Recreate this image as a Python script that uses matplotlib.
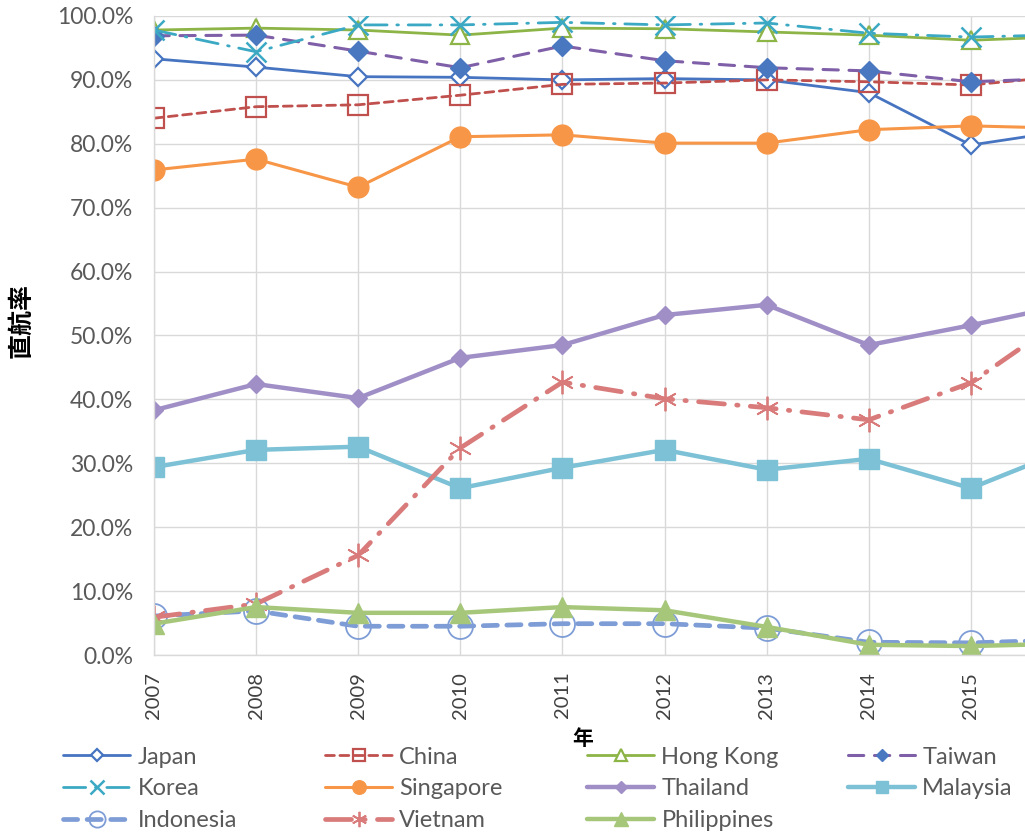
import matplotlib
matplotlib.use("Agg")
import matplotlib.pyplot as plt
from matplotlib.ticker import FuncFormatter, MultipleLocator

# Direct-flight ratio (%) by market, 2007-2016
years = [2007, 2008, 2009, 2010, 2011, 2012, 2013, 2014, 2015, 2016]
year_labels = ["2007", "2008", "2009", "2010", "2011", "2012", "2013", "2014", "2015"]

japan       = [93.3, 92.0, 90.5, 90.4, 90.0, 90.2, 90.0, 88.0, 79.8, 82.2]
china       = [84.0, 85.8, 86.1, 87.6, 89.3, 89.5, 90.0, 89.7, 89.2, 90.7]
hong_kong   = [97.8, 98.1, 97.8, 97.0, 98.1, 98.0, 97.5, 97.0, 96.2, 96.8]
taiwan      = [96.9, 97.0, 94.5, 91.9, 95.3, 93.0, 91.9, 91.4, 89.7, 90.3]
korea       = [97.8, 94.4, 98.6, 98.6, 99.0, 98.6, 98.9, 97.3, 96.7, 97.1]
singapore   = [75.9, 77.6, 73.2, 81.1, 81.4, 80.1, 80.1, 82.2, 82.8, 82.4]
thailand    = [38.3, 42.4, 40.2, 46.5, 48.5, 53.2, 54.8, 48.5, 51.6, 55.0]
malaysia    = [29.4, 32.1, 32.6, 26.1, 29.3, 32.1, 29.0, 30.7, 26.1, 32.5]
indonesia   = [6.1, 6.9, 4.5, 4.5, 4.9, 4.9, 4.2, 2.0, 1.9, 2.4]
vietnam     = [5.9, 8.0, 15.6, 32.4, 42.7, 40.1, 38.7, 36.8, 42.6, 53.7]
philippines = [4.9, 7.5, 6.6, 6.6, 7.5, 7.0, 4.4, 1.6, 1.4, 1.8]

names = ["Japan", "China", "Hong Kong", "Taiwan", "Korea", "Singapore",
         "Thailand", "Malaysia", "Indonesia", "Vietnam", "Philippines"]

plt.rcParams["font.family"] = ["Lato", "DejaVu Sans"]

fig = plt.figure(figsize=(10.25, 8.36), dpi=100)
# the plot area runs on past the right edge of the canvas
ax = fig.add_axes([0.1502, 0.2165, 0.8966, 0.7644])

series = [
    # values, line color, linestyle, lw, marker, ms, face, edge, mew
    (japan, "#4674C1", "-", 2.0, "D", 9, "white", "#4674C1", 1.6),
    (china, "#C0504D", (0, (3.2, 2.0)), 2.0, "s", 14, "none", "#C0504D", 1.6),
    (hong_kong, "#8DB446", "-", 2.0, "^", 13, "white", "#8DB446", 1.6),
    (taiwan, "#7F5FA8", (0, (5.0, 3.5)), 2.2, "D", 10, "#4A78C0", "#4A78C0", 1.0),
    (korea, "#3CA9C4", (0, (8.0, 3.5, 0.6, 3.5)), 2.0, "x", 15, "#3CA9C4", "#3CA9C4", 1.8),
    (singapore, "#F79646", "-", 2.2, "o", 15, "#F79646", "#F79646", 1.0),
    (thailand, "#A08FC6", "-", 3.2, "D", 9, "#A08FC6", "#A08FC6", 1.0),
    (malaysia, "#7CC1D5", "-", 3.2, "s", 14, "#7CC1D5", "#7CC1D5", 1.0),
    (indonesia, "#7E9DD6", (0, (3.0, 2.0)), 3.4, "o", 18, "none", "#7E9DD6", 1.3),
    (vietnam, "#D97B7B", (0, (5.5, 2.6, 0.3, 2.6)), 3.4, (6, 2, 0), 17, "#D97B7B", "#D97B7B", 1.3),
    (philippines, "#A6C77A", "-", 3.2, "^", 15, "#A6C77A", "#A6C77A", 1.0),
]

handles = []
for name, (vals, col, ls, lw, mk, ms, fc, ec, mew) in zip(names, series):
    (h,) = ax.plot(years, vals, color=col, linestyle=ls, linewidth=lw,
                   marker=mk, markersize=ms, markerfacecolor=fc,
                   markeredgecolor=ec, markeredgewidth=mew,
                   dash_capstyle="round", solid_capstyle="round",
                   label=name)
    handles.append(h)

ax.set_xlim(2007, 2016)
ax.set_ylim(0, 100)
ax.yaxis.set_major_locator(MultipleLocator(10))
ax.yaxis.set_major_formatter(FuncFormatter(lambda v, p: f"{v:.1f}%"))
ax.set_xticks(years[:len(year_labels)])
ax.set_xticklabels(year_labels, rotation=90)
ax.set_xticks([2016], minor=True)

ax.grid(True, which="both", color="#D9D9D9", linewidth=1.0)
ax.set_axisbelow(True)
for s in ["top", "right"]:
    ax.spines[s].set_visible(False)
for s in ["left", "bottom"]:
    ax.spines[s].set_color("#D9D9D9")
    ax.spines[s].set_linewidth(1.0)

ax.tick_params(axis="y", length=0, pad=15, labelsize=16.5, labelcolor="#595959")
ax.tick_params(axis="x", which="both", length=0, pad=12, labelsize=14.5,
               labelcolor="#404040")

ax.set_ylabel("直航率", family=["Noto Sans CJK JP", "DejaVu Sans"],
              fontweight="bold", fontsize=18)
ax.yaxis.set_label_coords(-0.131, 0.523)
fig.text(0.568, 0.117, "年", family=["Noto Sans CJK JP", "DejaVu Sans"],
         fontweight="bold", fontsize=15, ha="center", va="center")

# legend: four columns laid out row by row
col_x = [63, 325, 587, 848]
columns = [[0, 4, 8], [1, 5, 9], [2, 6, 10], [3, 7]]
for x0, idx in zip(col_x, columns):
    fig.legend([handles[i] for i in idx], [names[i] for i in idx],
               loc="upper left", bbox_to_anchor=(x0 / 1025, 0.107),
               frameon=False, fontsize=17, handlelength=2.85,
               handletextpad=0.3, labelspacing=0.45, borderpad=0,
               borderaxespad=0, markerscale=0.65, labelcolor="#595959")

fig.savefig("out.png", dpi=100)
